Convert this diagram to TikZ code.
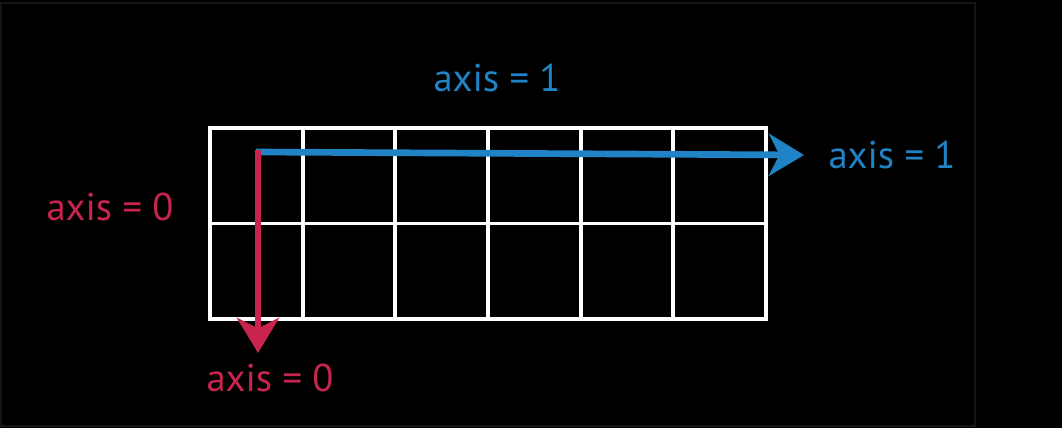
\documentclass[tikz,border=0pt]{standalone}
\usepackage{fontspec}
\setmainfont{PT Sans}
\usetikzlibrary{arrows.meta}
\definecolor{axisblue}{RGB}{31,131,198}
\definecolor{axisred}{RGB}{199,37,78}
\definecolor{frame}{RGB}{20,22,22}
\begin{document}
\begin{tikzpicture}[x=0.02cm,y=-0.02cm,inner sep=0pt,outer sep=0pt,
cellgrid/.style={draw=white,line width=2.2pt},
axisarrow/.style={line width=3.8pt,-{Stealth[length=20pt,width=24pt,inset=6pt]}},
axislabel/.style={font=\fontsize{22}{26}\selectfont}]
\useasboundingbox (0,0) rectangle (1062,428);
\fill[black] (0,0) rectangle (1062,428);
\draw[frame,line width=1pt] (1,3) rectangle (975,426);
% grid of 6 x 2 cells
\foreach \col in {0,...,5}
  \foreach \row in {0,1}
    \draw[cellgrid] ({210+\col*92.67},{128+\row*95.5}) rectangle ++(92.67,95.5);
\coordinate (origin) at (256,152);
\coordinate (endone) at (804,155);
\coordinate (endzero) at (258,353);
\draw[axisarrow,axisblue] (origin) -- (endone);
\draw[axisarrow,axisred] (258,150) -- (endzero);
\draw (497,78) node[axislabel,text=axisblue] (topone) {axis = 1};
\draw (892,155) node[axislabel,text=axisblue] (rightone) {axis = 1};
\draw (110,207) node[axislabel,text=axisred] (leftzero) {axis = 0};
\draw (270,378) node[axislabel,text=axisred] (bottomzero) {axis = 0};
\end{tikzpicture}
\end{document}
